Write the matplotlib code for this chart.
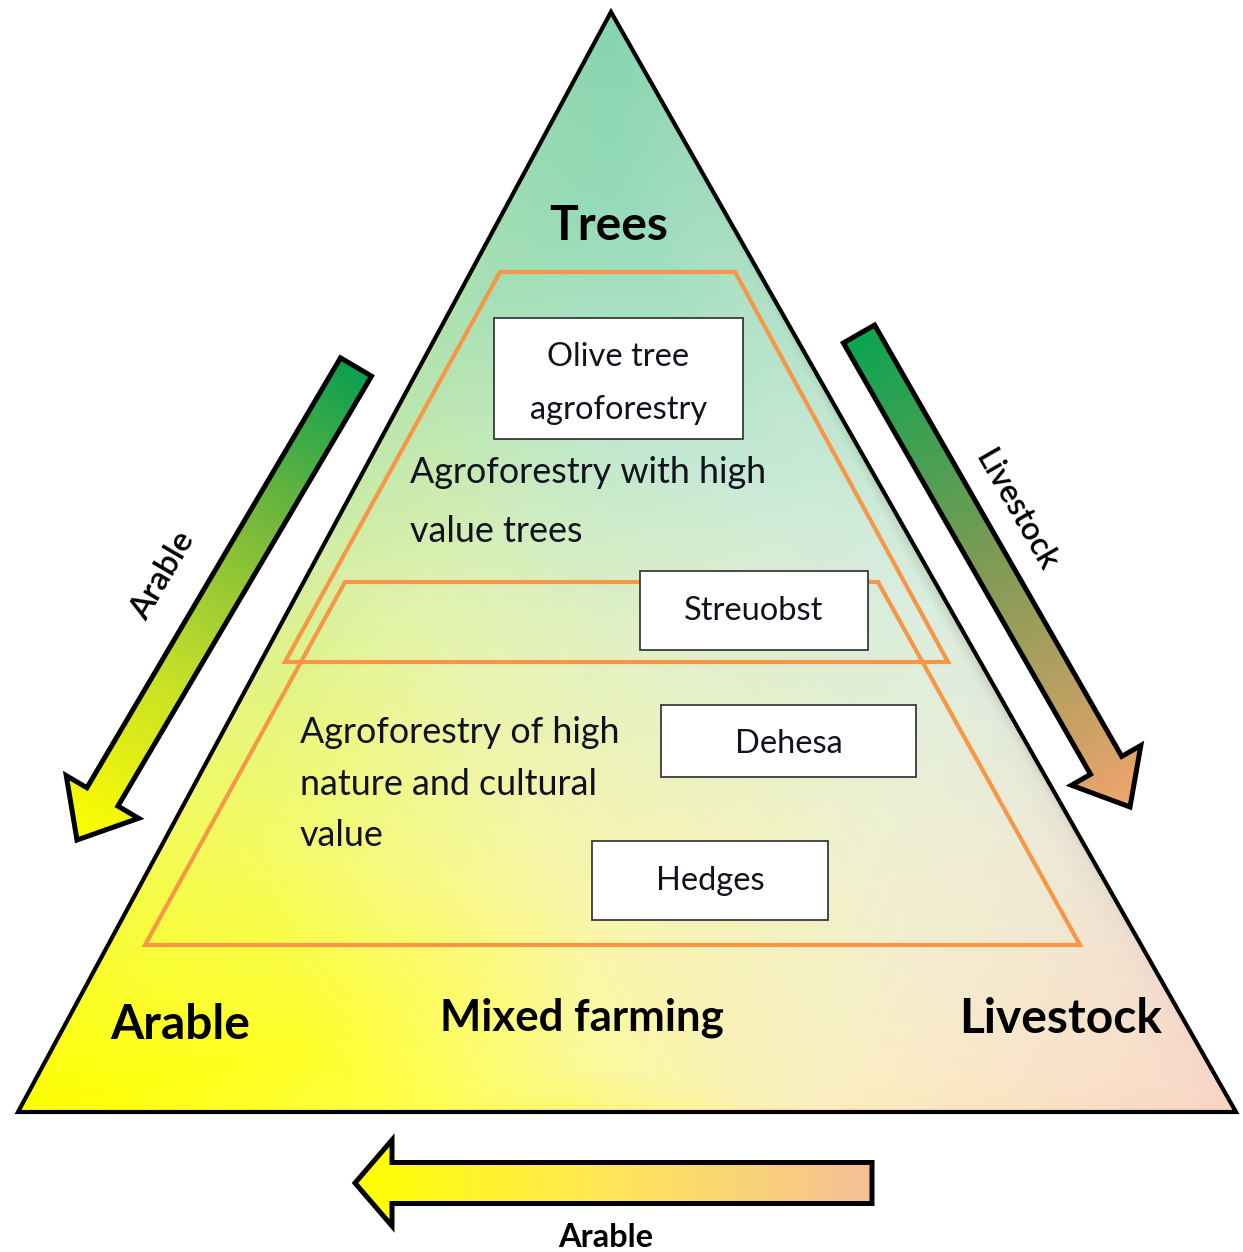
import numpy as np
import matplotlib
matplotlib.use("Agg")
import matplotlib.pyplot as plt
from matplotlib.patches import Polygon, Rectangle
import matplotlib.tri as mtri

# ---------------- data (labels) ----------------
corner_labels = ["Trees", "Arable", "Mixed farming", "Livestock"]
region_labels = ["Agroforestry with high\nvalue trees",
                 "Agroforestry of high\nnature and cultural\nvalue"]
box_labels = ["Olive tree\nagroforestry", "Streuobst", "Dehesa", "Hedges"]
arrow_labels = ["Arable", "Livestock", "Arable"]

# ---------------- figure ----------------
W, H = 1243, 1252
fig = plt.figure(figsize=(W / 100, H / 100), dpi=100)
ax = fig.add_axes([0, 0, 1, 1])
ax.set_xlim(0, W)
ax.set_ylim(H, 0)
ax.axis("off")

FONT = ["Lato", "DejaVu Sans"]
TXT = "#12121f"

# ---------------- triangle with gradient ----------------
tri_pts = np.array([[611, 12], [18, 1112], [1236, 1112]], float)
ctrl = [
    (611, 12, (135, 212, 175)),
    (18, 1112, (255, 255, 0)),
    (1236, 1112, (248, 212, 198)),
    (611, 200, (148, 219, 184)),
    (611, 420, (188, 231, 207)),
    (470, 300, (168, 224, 182)),
    (320, 560, (212, 238, 165)),
    (180, 800, (242, 250, 100)),
    (420, 620, (228, 244, 172)),
    (830, 520, (208, 236, 218)),
    (930, 600, (218, 238, 224)),
    (1050, 850, (238, 234, 214)),
    (575, 900, (250, 246, 170)),
    (300, 1050, (255, 255, 40)),
    (600, 1060, (250, 250, 160)),
    (900, 1060, (250, 236, 200)),
    (1150, 1080, (250, 222, 202)),
    (400, 1108, (255, 255, 70)),
    (800, 1108, (250, 240, 190)),
    (611, 640, (226, 241, 195)),
    (250, 850, (245, 252, 95)),
    (900, 800, (236, 240, 212)),
]
cx = np.array([c[0] for c in ctrl], float)
cy = np.array([c[1] for c in ctrl], float)
cc = np.array([c[2] for c in ctrl], float) / 255.0
tr = mtri.Triangulation(cx, cy)
gx, gy = np.meshgrid(np.arange(0, W, 2) + 1.0, np.arange(0, H, 2) + 1.0)
img = np.ones(gx.shape + (3,))
for k in range(3):
    interp = mtri.LinearTriInterpolator(tr, cc[:, k])
    v = interp(gx, gy)
    img[..., k] = np.ma.filled(v, 1.0)
img = np.clip(img, 0, 1)
tri_patch = Polygon(tri_pts, closed=True, facecolor="none", edgecolor="none")
ax.add_patch(tri_patch)
im = ax.imshow(img, extent=(0, W, H, 0), origin="upper", zorder=1,
               interpolation="bilinear", aspect="auto")
im.set_clip_path(tri_patch)
ax.add_patch(Polygon(tri_pts, closed=True, facecolor="none",
                     edgecolor="black", lw=3.0, joinstyle="miter", zorder=2))

# ---------------- orange trapezoids ----------------
ORANGE = "#f79646"
trap_upper = [[500, 272], [735, 272], [948, 662], [285, 662]]
trap_lower = [[345, 582], [878, 582], [1080, 945], [145, 945]]
for t in (trap_upper, trap_lower):
    ax.add_patch(Polygon(t, closed=True, facecolor="none", edgecolor=ORANGE,
                         lw=3.0, joinstyle="miter", zorder=3))

# ---------------- boxes ----------------
box_rects = [(494, 318, 743, 439), (640, 571, 868, 650),
             (661, 705, 916, 777), (592, 841, 828, 920)]
box_baselines = [[366, 419], [620], [753], [890]]
for lab, (x0, y0, x1, y1), bls in zip(box_labels, box_rects, box_baselines):
    ax.add_patch(Rectangle((x0, y0), x1 - x0, y1 - y0, facecolor="white",
                           edgecolor="#3a3a3a", lw=1.3, zorder=4))
    for line, b in zip(lab.split("\n"), bls):
        ax.text((x0 + x1) / 2, b, line, ha="center", va="baseline",
                fontsize=23.5, family=FONT, color=TXT, zorder=5)

# ---------------- region text ----------------
region_pos = [(410, [483, 542]), (300, [743, 795, 846])]
for lab, (x, bls) in zip(region_labels, region_pos):
    for line, b in zip(lab.split("\n"), bls):
        ax.text(x, b, line, ha="left", va="baseline", fontsize=25.8,
                family=FONT, color=TXT, zorder=5)

# ---------------- corner labels ----------------
corner_pos = [(609, 240), (180, 1039), (582, 1030), (1061, 1033)]
corner_sizes = [34.5, 34.5, 31.5, 34.5]
for lab, (x, b), fs in zip(corner_labels, corner_pos, corner_sizes):
    ax.text(x, b, lab, ha="center", va="baseline", fontsize=fs,
            fontweight="bold", family=FONT, color="black", zorder=5)

# ---------------- gradient arrows ----------------
def arrow_poly(tail, tip, sw, hw, hl):
    tail = np.asarray(tail, float)
    tip = np.asarray(tip, float)
    d = tip - tail
    L = np.hypot(*d)
    u = d / L
    n = np.array([-u[1], u[0]])
    base = tip - u * hl
    return np.array([tail + n * sw / 2, base + n * sw / 2, base + n * hw / 2,
                     tip, base - n * hw / 2, base - n * sw / 2,
                     tail - n * sw / 2])


def grad_arrow(tail, tip, sw, hw, hl, cols):
    pts = arrow_poly(tail, tip, sw, hw, hl)
    tail = np.asarray(tail, float)
    tip = np.asarray(tip, float)
    d = tip - tail
    L2 = (d ** 2).sum()
    t = ((gx - tail[0]) * d[0] + (gy - tail[1]) * d[1]) / L2
    t = np.clip(t, 0, 1)
    cols = np.array(cols, float) / 255
    stops = np.linspace(0, 1, len(cols))
    g = np.stack([np.interp(t, stops, cols[:, k]) for k in range(3)], axis=-1)
    p = Polygon(pts, closed=True, facecolor="none", edgecolor="none")
    ax.add_patch(p)
    gi = ax.imshow(g, extent=(0, W, H, 0), origin="upper", zorder=3,
                   interpolation="bilinear", aspect="auto")
    gi.set_clip_path(p)
    ax.add_patch(Polygon(pts, closed=True, facecolor="none", edgecolor="black",
                         lw=3.6, joinstyle="miter", zorder=4))


grad_arrow((356, 367), (77, 840), 36, 84, 50,
           [(10, 160, 80), (120, 185, 60), (200, 225, 40), (255, 255, 0)])
grad_arrow((859, 334), (1130, 807), 36, 80, 48,
           [(10, 165, 80), (130, 155, 85), (240, 165, 110)])
grad_arrow((872, 1183), (355, 1183), 41, 86, 37,
           [(245, 192, 150), (255, 230, 90), (255, 255, 0)])

ax.text(163, 576, arrow_labels[0], rotation=59.5, rotation_mode="anchor",
        ha="center", va="center", fontsize=24, fontweight="semibold",
        family=FONT, color="black", zorder=5)
ax.text(1016, 511, arrow_labels[1], rotation=-60, rotation_mode="anchor",
        ha="center", va="center", fontsize=23, fontweight="semibold",
        family=FONT, color="black", zorder=5)
ax.text(606, 1247, arrow_labels[2], ha="center", va="baseline", fontsize=23.5,
        fontweight="bold", family=FONT, color="black", zorder=5)

ax.set_xlim(0, W)
ax.set_ylim(H, 0)
fig.savefig("out.png", dpi=100, facecolor="white")
